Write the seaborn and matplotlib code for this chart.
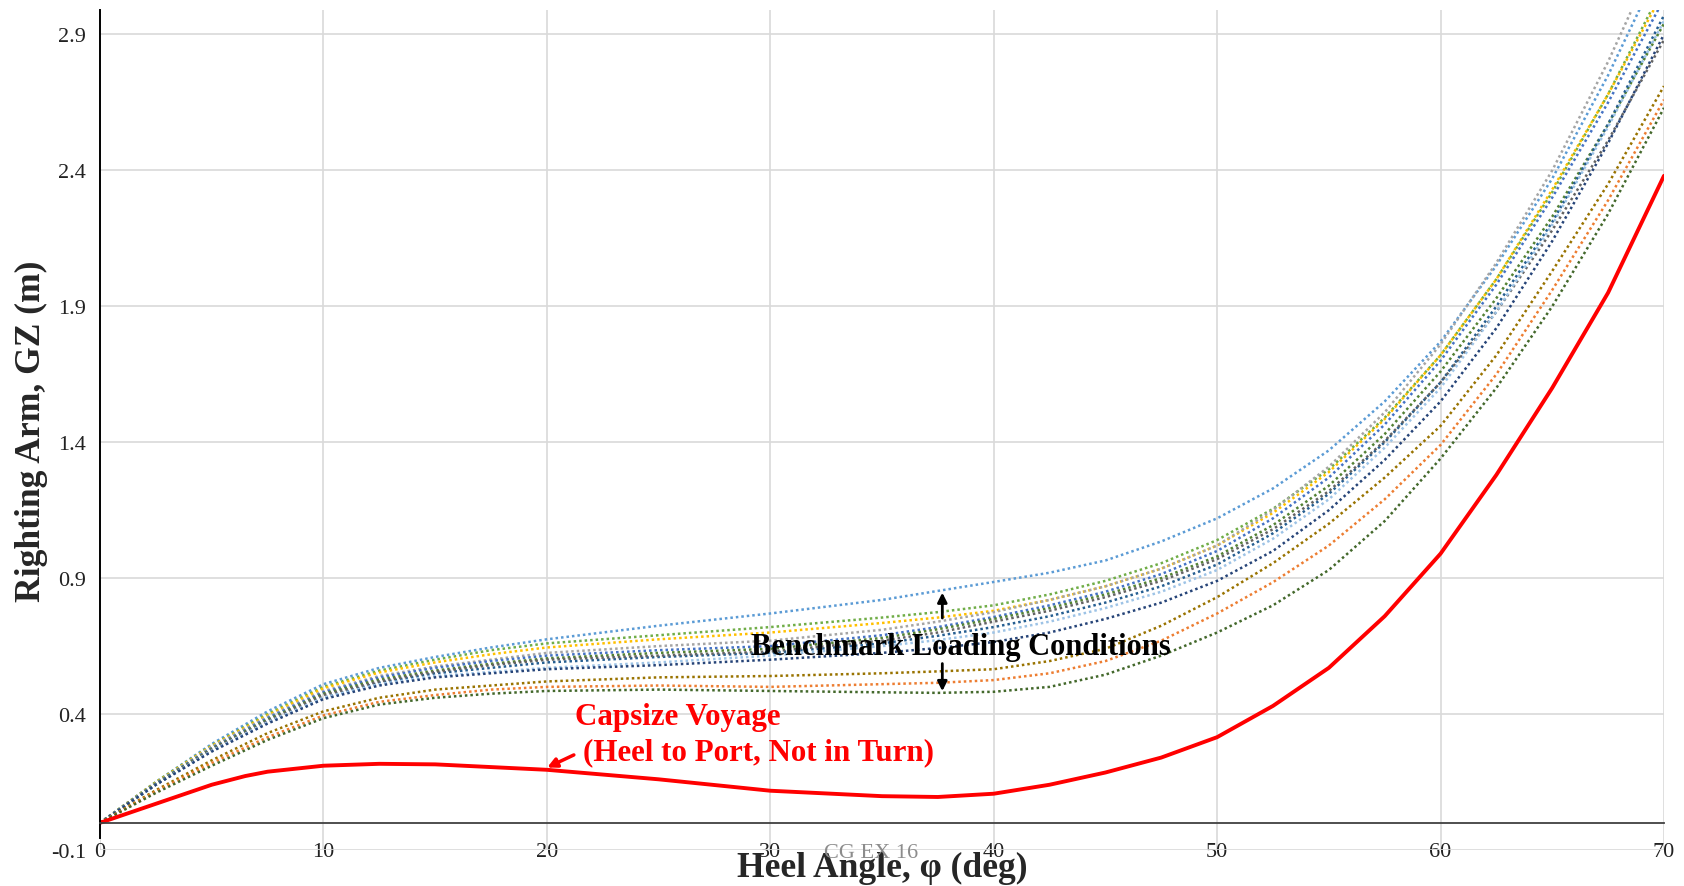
import matplotlib
matplotlib.use("Agg")
import matplotlib.pyplot as plt
import seaborn as sns

# heel angles (deg) shared by the benchmark loading conditions
heel = [0, 2.5, 5, 7.5, 10, 12.5, 15, 17.5, 20, 25, 30, 35, 37.5, 40, 42.5,
        45, 47.5, 50, 52.5, 55, 57.5, 60, 62.5, 65, 67.5, 70]

# righting arm GZ (m) for each benchmark loading condition
gz_blue_top = [0, 0.15, 0.29, 0.41, 0.51, 0.57, 0.61, 0.645, 0.675, 0.725, 0.77, 0.82, 0.853, 0.886,
               0.92, 0.965, 1.035, 1.12, 1.23, 1.37, 1.55, 1.77, 2.05, 2.37, 2.75, 3.18]
gz_green = [0, 0.15, 0.285, 0.40, 0.50, 0.56, 0.60, 0.635, 0.66, 0.69, 0.72, 0.755, 0.775, 0.80,
            0.84, 0.89, 0.955, 1.04, 1.155, 1.30, 1.49, 1.72, 2.00, 2.32, 2.68, 3.08]
gz_yellow = [0, 0.148, 0.283, 0.395, 0.495, 0.553, 0.59, 0.62, 0.645, 0.675, 0.70, 0.735, 0.755, 0.78,
             0.82, 0.87, 0.935, 1.02, 1.14, 1.29, 1.485, 1.72, 2.00, 2.33, 2.68, 3.06]
gz_gray = [0, 0.145, 0.28, 0.39, 0.485, 0.54, 0.575, 0.60, 0.625, 0.65, 0.67, 0.71, 0.74, 0.775,
           0.82, 0.87, 0.935, 1.02, 1.15, 1.31, 1.51, 1.76, 2.06, 2.40, 2.80, 3.25]
gz_blue = [0, 0.145, 0.275, 0.385, 0.48, 0.535, 0.57, 0.595, 0.615, 0.635, 0.65, 0.69, 0.72, 0.757,
           0.80, 0.85, 0.915, 1.00, 1.12, 1.27, 1.465, 1.70, 1.98, 2.30, 2.65, 3.03]
gz_green2 = [0, 0.143, 0.272, 0.38, 0.475, 0.527, 0.56, 0.585, 0.605, 0.625, 0.64, 0.68, 0.712, 0.75,
             0.79, 0.84, 0.90, 0.98, 1.095, 1.24, 1.43, 1.66, 1.93, 2.23, 2.57, 2.94]
gz_navy = [0, 0.14, 0.265, 0.37, 0.46, 0.515, 0.55, 0.57, 0.59, 0.61, 0.625, 0.66, 0.688, 0.72,
           0.76, 0.81, 0.87, 0.95, 1.065, 1.21, 1.40, 1.62, 1.90, 2.21, 2.57, 2.97]
gz_darkgray = [0, 0.14, 0.27, 0.375, 0.47, 0.52, 0.555, 0.58, 0.60, 0.615, 0.63, 0.67, 0.70, 0.74,
               0.78, 0.83, 0.89, 0.97, 1.08, 1.22, 1.405, 1.62, 1.88, 2.18, 2.51, 2.88]
gz_lightblue = [0, 0.14, 0.265, 0.37, 0.46, 0.51, 0.54, 0.555, 0.57, 0.59, 0.615, 0.65, 0.672, 0.70,
                0.74, 0.79, 0.85, 0.93, 1.045, 1.19, 1.38, 1.60, 1.88, 2.20, 2.56, 2.95]
gz_darkblue = [0, 0.14, 0.262, 0.365, 0.455, 0.505, 0.535, 0.55, 0.565, 0.58, 0.60, 0.625, 0.643, 0.665,
               0.70, 0.75, 0.81, 0.89, 1.00, 1.15, 1.335, 1.55, 1.82, 2.14, 2.50, 2.90]
gz_darkyellow = [0, 0.12, 0.23, 0.33, 0.41, 0.46, 0.49, 0.505, 0.52, 0.535, 0.54, 0.55, 0.557, 0.565,
                 0.595, 0.64, 0.725, 0.83, 0.955, 1.10, 1.27, 1.46, 1.72, 2.03, 2.35, 2.71]
gz_orange = [0, 0.115, 0.22, 0.315, 0.395, 0.445, 0.47, 0.49, 0.50, 0.505, 0.50, 0.51, 0.515, 0.525,
             0.55, 0.595, 0.67, 0.77, 0.885, 1.02, 1.19, 1.39, 1.65, 1.96, 2.29, 2.66]
gz_darkgreen = [0, 0.11, 0.21, 0.305, 0.385, 0.435, 0.46, 0.475, 0.485, 0.49, 0.485, 0.48, 0.478, 0.482,
                0.50, 0.545, 0.615, 0.70, 0.80, 0.93, 1.11, 1.34, 1.60, 1.90, 2.24, 2.63]

benchmarks = [gz_blue_top, gz_green, gz_yellow, gz_gray, gz_blue, gz_green2, gz_navy,
              gz_darkgray, gz_lightblue, gz_darkblue, gz_darkyellow, gz_orange, gz_darkgreen]
bench_colors = ['#5B9BD5', '#70AD47', '#FFC000', '#A5A5A5', '#4472C4', '#548235', '#255E91',
                '#636363', '#9DC3E6', '#264478', '#997300', '#ED7D31', '#43682B']

# capsize voyage (heel to port, not in turn)
cap_heel = [0, 2.5, 5, 6.5, 7.5, 10, 12.5, 15, 17.5, 20, 25, 30, 35, 37.5, 40, 42.5, 45,
            47.5, 50, 52.5, 55, 57.5, 60, 62.5, 65, 67.5, 70]
cap_gz = [0, 0.07, 0.14, 0.172, 0.188, 0.21, 0.217, 0.215, 0.205, 0.195, 0.16, 0.118, 0.098, 0.095,
          0.107, 0.14, 0.185, 0.24, 0.315, 0.43, 0.57, 0.76, 0.99, 1.28, 1.60, 1.95, 2.38]

x_ticks = [0, 10, 20, 30, 40, 50, 60, 70]
y_ticks = [-0.1, 0.4, 0.9, 1.4, 1.9, 2.4, 2.9]

sns.set_style('white')
plt.rcParams['font.family'] = ['Liberation Serif', 'DejaVu Serif']

fig = plt.figure(figsize=(16.84, 8.87), dpi=100)
ax = fig.add_axes([0.0594, 0.0406, 0.9287, 0.947])

for gz, col in zip(benchmarks, bench_colors):
    sns.lineplot(x=heel, y=gz, ax=ax, color=col, linestyle=(0, (1, 1.2)), linewidth=1.8)

sns.lineplot(x=cap_heel, y=cap_gz, ax=ax, color='#FF0000', linewidth=2.8)

ax.set_xlim(0, 70)
ax.set_ylim(-0.1, 2.99)
ax.set_xticks(x_ticks)
ax.set_xticklabels([str(t) for t in x_ticks])
ax.set_yticks(y_ticks)
ax.set_yticklabels([f'{t:.1f}' for t in y_ticks])
ax.grid(True, color='#D9D9D9', linewidth=1.2)
ax.set_axisbelow(True)
ax.tick_params(axis='both', length=0, labelsize=16, colors='#222222')
ax.tick_params(axis='y', pad=10)
ax.tick_params(axis='x', pad=13.5)

for s in ['top', 'right']:
    ax.spines[s].set_visible(False)
ax.spines['left'].set_color('black')
ax.spines['left'].set_linewidth(1.4)
ax.spines['left'].set_bounds(-0.055, 2.99)
ax.spines['bottom'].set_position(('data', 0))
ax.spines['bottom'].set_color('#404040')
ax.spines['bottom'].set_linewidth(1.3)

ax.set_xlabel('Heel Angle, φ (deg)', fontsize=25.6, fontweight='bold')
ax.xaxis.set_label_coords(0.5, -0.021)
ax.xaxis.label.set_verticalalignment('center')
ax.set_ylabel('Righting Arm, GZ (m)', fontsize=25.6, fontweight='bold')
ax.yaxis.set_label_coords(-0.044, 0.5)
ax.yaxis.label.set_verticalalignment('center')

# annotations
ax.text(38.55, 0.621, 'Benchmark Loading Conditions', ha='center', va='baseline',
        fontsize=22, fontweight='bold', color='black')
ax.annotate('', xy=(37.7, 0.857), xytext=(37.7, 0.743),
            arrowprops=dict(arrowstyle='-|>', color='black', lw=2, mutation_scale=14))
ax.annotate('', xy=(37.7, 0.474), xytext=(37.7, 0.596),
            arrowprops=dict(arrowstyle='-|>', color='black', lw=2, mutation_scale=14))

ax.text(21.28, 0.364, 'Capsize Voyage', ha='left', va='baseline',
        fontsize=22.3, fontweight='bold', color='#FF0000')
ax.text(21.6, 0.235, '(Heel to Port, Not in Turn)', ha='left', va='baseline',
        fontsize=22.3, fontweight='bold', color='#FF0000')
ax.annotate('', xy=(19.9, 0.199), xytext=(21.32, 0.254),
            arrowprops=dict(arrowstyle='-|>', color='#FF0000', lw=2.5, mutation_scale=14))

ax.text(34.5, -0.11, 'CG EX 16', ha='center', va='center', fontsize=16,
        color='#8C8C8C', clip_on=False)

fig.savefig('out.png', dpi=100)
